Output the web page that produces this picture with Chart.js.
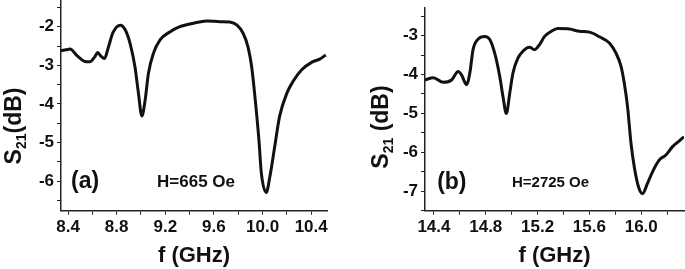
<!DOCTYPE html>
<html>
<head>
<meta charset="utf-8">
<script src="https://cdn.jsdelivr.net/npm/chart.js@4.4.1/dist/chart.umd.min.js"></script>
<style>
  html, body { margin: 0; padding: 0; background: #fff; }
  #wrap { position: relative; width: 685px; height: 269px; overflow: hidden; }
  canvas { position: absolute; top: 0; }
  #chartA { left: 0; }
  #chartB { left: 340px; }
</style>
</head>
<body>
<div id="wrap">
  <canvas id="chartA" width="340" height="269"></canvas>
  <canvas id="chartB" width="345" height="269"></canvas>
</div>
<script>
// panel (a), H = 665 Oe
const freqA = [8.342, 8.40, 8.416, 8.474, 8.54, 8.58, 8.62, 8.644, 8.67, 8.70, 8.73, 8.77, 8.83, 8.87,
  8.91, 8.95, 8.979, 9.007, 9.034, 9.061, 9.102, 9.157, 9.24, 9.32, 9.43, 9.54, 9.65, 9.73, 9.79,
  9.84, 9.88, 9.91, 9.94, 9.97, 9.99, 10.03, 10.06, 10.10, 10.14, 10.20, 10.25, 10.32, 10.41,
  10.47, 10.52];
const s21A = [-2.62, -2.59, -2.58, -2.75, -2.90, -2.91, -2.78, -2.67, -2.76, -2.82, -2.55, -2.15, -1.96, -2.08,
  -2.43, -3.03, -3.72, -4.31, -3.90, -3.21, -2.69, -2.34, -2.13, -2.00, -1.91, -1.85, -1.87, -1.88, -1.96,
  -2.17, -2.52, -3.03, -3.90, -4.93, -5.79, -6.29, -5.88, -5.10, -4.32, -3.72, -3.42, -3.12, -2.91,
  -2.84, -2.73];

// panel (b), H = 2725 Oe
const freqB = [14.331, 14.395, 14.472, 14.536, 14.587, 14.613, 14.652, 14.677, 14.702, 14.741, 14.792,
  14.831, 14.869, 14.908, 14.933, 14.959, 14.985, 15.010, 15.048, 15.087, 15.138, 15.177, 15.215,
  15.254, 15.305, 15.356, 15.446, 15.523, 15.600, 15.677, 15.754, 15.805, 15.844, 15.869, 15.895,
  15.921, 15.946, 15.979, 16.010, 16.048, 16.087, 16.138, 16.190, 16.240, 16.292, 16.33];
const s21B = [-4.14, -4.08, -4.20, -4.14, -3.92, -4.01, -4.26, -3.96, -3.36, -3.09, -3.02,
  -3.10, -3.45, -4.05, -4.57, -5.00, -4.48, -3.96, -3.58, -3.40, -3.30, -3.36, -3.23,
  -3.02, -2.89, -2.82, -2.83, -2.89, -2.91, -3.03, -3.19, -3.45, -3.79, -4.22, -4.85,
  -5.77, -6.37, -6.89, -7.06, -6.80, -6.50, -6.20, -6.07, -5.86, -5.71, -5.60];

// axis ranges and labels
const xRangeA = [8.342, 10.53];
const yRangeA = [-6.76, -1.31];
const xRangeB = [14.331, 16.33];
const yRangeB = [-7.5, -2.29];
const xTitle = 'f (GHz)';
const yTitleA = ['S', '21', '(dB)'];
const yTitleB = ['S', '21', ' (dB)'];
const panelLabels = ['(a)', '(b)'];
const fieldLabels = ['H=665 Oe', 'H=2725 Oe'];

const FONT = '"Liberation Sans", Arial, sans-serif';
const INK = '#111';

// draws the rotated y title with a subscript, plus the two text notes inside the plot
const notesPlugin = {
  id: 'notes',
  afterDraw(chart) {
    const cfg = chart.options.plugins.notes;
    const ctx = chart.ctx;
    const xs = chart.scales.x, ys = chart.scales.y;

    // y title
    ctx.save();
    ctx.fillStyle = INK;
    ctx.textBaseline = 'middle';
    ctx.translate(cfg.yTitlePos[0], cfg.yTitlePos[1]);
    ctx.rotate(-Math.PI / 2);
    const big = 'bold 23px ' + FONT, small = 'bold 14px ' + FONT;
    ctx.font = big;
    const w1 = ctx.measureText(cfg.yTitle[0]).width;
    const w3 = ctx.measureText(cfg.yTitle[2]).width;
    ctx.font = small;
    const w2 = ctx.measureText(cfg.yTitle[1]).width;
    let x = -(w1 + w2 + w3) / 2;
    ctx.font = big;
    ctx.fillText(cfg.yTitle[0], x, 0);
    x += w1;
    ctx.font = small;
    ctx.fillText(cfg.yTitle[1], x, 7);
    x += w2;
    ctx.font = big;
    ctx.fillText(cfg.yTitle[2], x, 0);
    ctx.restore();

    // panel letter and field value
    ctx.save();
    ctx.fillStyle = INK;
    ctx.textAlign = 'center';
    ctx.textBaseline = 'middle';
    ctx.font = 'bold 23px ' + FONT;
    ctx.fillText(cfg.letter, xs.getPixelForValue(cfg.letterAt[0]), ys.getPixelForValue(cfg.letterAt[1]));
    ctx.font = 'bold ' + cfg.fieldSize + 'px ' + FONT;
    ctx.fillText(cfg.field, xs.getPixelForValue(cfg.fieldAt[0]), ys.getPixelForValue(cfg.fieldAt[1]));
    ctx.restore();
  }
};

// keep the plot box where the picture has it: no extra room for edge labels
function noEdgePadding(scale) {
  scale.paddingTop = 0;
  scale.paddingBottom = 0;
  scale.paddingLeft = 0;
  scale.paddingRight = 0;
}

function makePanel(canvasId, freq, s21, p) {
  const canvas = document.getElementById(canvasId);
  return new Chart(canvas, {
    type: 'line',
    data: {
      datasets: [{
        data: freq.map((f, i) => ({ x: f, y: s21[i] })),
        borderColor: INK,
        borderWidth: 3,
        pointRadius: 0,
        cubicInterpolationMode: 'monotone',
        fill: false
      }]
    },
    options: {
      responsive: false,
      animation: false,
      layout: { padding: { left: 0, right: p.padRight, top: p.padTop, bottom: 0 } },
      plugins: {
        legend: { display: false },
        tooltip: { enabled: false },
        notes: p.notes
      },
      scales: {
        x: {
          type: 'linear',
          min: p.xRange[0],
          max: p.xRange[1],
          afterFit(scale) { scale.height = 58.3; noEdgePadding(scale); },
          border: { color: '#222', width: 1.5 },
          grid: { drawOnChartArea: false, drawTicks: true, tickLength: 4, color: '#222' },
          ticks: {
            stepSize: 0.2,
            includeBounds: false,
            autoSkip: false,
            maxRotation: 0,
            padding: 2,
            color: INK,
            font: { family: FONT, size: 17, weight: 'bold' },
            callback: v => Math.round(v * 10) % 4 === 0 ? v.toFixed(1) : ''
          },
          title: {
            display: true,
            text: xTitle,
            color: INK,
            padding: { top: 0, bottom: 0 },
            font: { family: FONT, size: 22, weight: 'bold' }
          }
        },
        y: {
          min: p.yRange[0],
          max: p.yRange[1],
          afterFit(scale) { scale.width = p.yWidth; noEdgePadding(scale); },
          border: { color: '#222', width: 1.5 },
          grid: { drawOnChartArea: false, drawTicks: true, tickLength: 4, color: '#222' },
          ticks: {
            stepSize: 0.5,
            includeBounds: false,
            autoSkip: false,
            padding: 3,
            color: INK,
            font: { family: FONT, size: 17, weight: 'bold' },
            callback: v => Math.round(v * 2) % 2 === 0 ? String(Math.round(v)) : ''
          }
        }
      }
    },
    plugins: [notesPlugin]
  });
}

makePanel('chartA', freqA, s21A, {
  xRange: xRangeA, yRange: yRangeA, yWidth: 61, padRight: 13, padTop: 0,
  notes: {
    yTitle: yTitleA, yTitlePos: [15, 126],
    letter: panelLabels[0], letterAt: [8.54, -6.02],
    field: fieldLabels[0], fieldAt: [9.453, -6.03], fieldSize: 17
  }
});

makePanel('chartB', freqB, s21B, {
  xRange: xRangeB, yRange: yRangeB, yWidth: 85, padRight: 1, padTop: 8,
  notes: {
    yTitle: yTitleB, yTitlePos: [42, 127],
    letter: panelLabels[1], letterAt: [14.538, -6.79],
    field: fieldLabels[1], fieldAt: [15.3, -6.78], fieldSize: 15
  }
});
</script>
</body>
</html>
